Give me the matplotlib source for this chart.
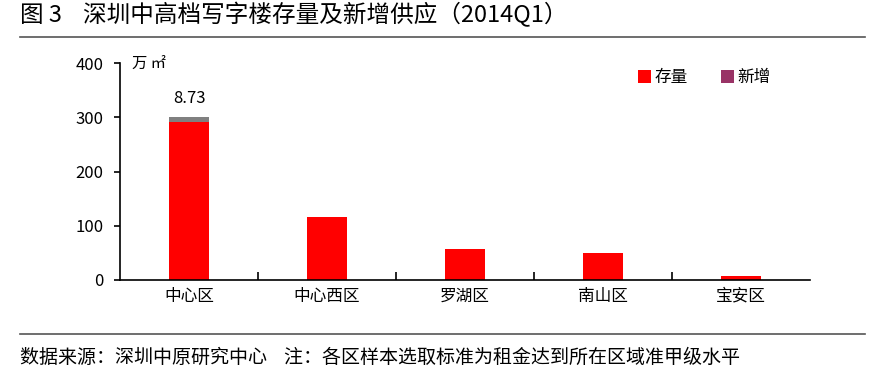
import matplotlib
matplotlib.use("Agg")
import matplotlib.pyplot as plt
import numpy as np

plt.rcParams['font.family'] = ['Noto Sans CJK SC', 'DejaVu Sans']

# data
districts = ['中心区', '中心西区', '罗湖区', '南山区', '宝安区']
stock = [291, 116, 57, 50, 7]
new_supply = [8.73, 0, 0, 0, 0]
yticks = [0, 100, 200, 300, 400]

fig = plt.figure(figsize=(8.9, 3.84), dpi=100)
ax = fig.add_axes([120 / 890, 1 - 280 / 384, 690 / 890, 217 / 384])

x = np.arange(len(districts))
ax.bar(x, stock, width=0.29, color='#ff0000', label='存量', zorder=2)
ax.bar(x, new_supply, width=0.29, bottom=stock, color='#808080', zorder=2)
# legend shows purple for 新增
ax.bar([0], [0], color='#993366', label='新增')

ax.text(x[0], stock[0] + new_supply[0] + 20, f'{new_supply[0]:.2f}',
        ha='center', va='bottom', fontsize=12)

ax.set_xlim(-0.5, len(districts) - 0.5)
ax.set_ylim(0, 400)
ax.set_yticks(yticks)
ax.tick_params(axis='y', direction='out', length=4, width=1.2, labelsize=12, pad=8)
ax.set_xticks(x[:-1] + 0.5)
ax.set_xticklabels([])
ax.tick_params(axis='x', direction='in', length=6, width=1.2)
for i, d in enumerate(districts):
    ax.text(x[i], -30, d, ha='center', va='center', fontsize=12)

ax.spines['top'].set_visible(False)
ax.spines['right'].set_visible(False)
ax.spines['left'].set_linewidth(1.2)
ax.spines['bottom'].set_linewidth(1.2)

ax.text(0.018, 1.0, '万 ㎡', transform=ax.transAxes, fontsize=11, va='center')

ax.legend(loc='upper right', bbox_to_anchor=(0.965, 1.04), ncol=2, frameon=False,
          fontsize=12, handlelength=0.8, handleheight=0.8, handletextpad=0.2,
          columnspacing=2.0)

# title, rules and footer
fig.text(20 / 890, 1 - 15 / 384, '图 3    深圳中高档写字楼存量及新增供应（2014Q1）',
         fontsize=17, va='center', ha='left')
fig.add_artist(plt.Line2D([20 / 890, 865 / 890], [1 - 37 / 384] * 2, color='#555555', lw=1.2))
fig.add_artist(plt.Line2D([20 / 890, 865 / 890], [1 - 334 / 384] * 2, color='#555555', lw=1.2))
fig.text(20 / 890, 1 - 357 / 384, '数据来源：深圳中原研究中心    注：各区样本选取标准为租金达到所在区域准甲级水平',
         fontsize=13.7, va='center', ha='left')

fig.savefig('out.png', dpi=100)
